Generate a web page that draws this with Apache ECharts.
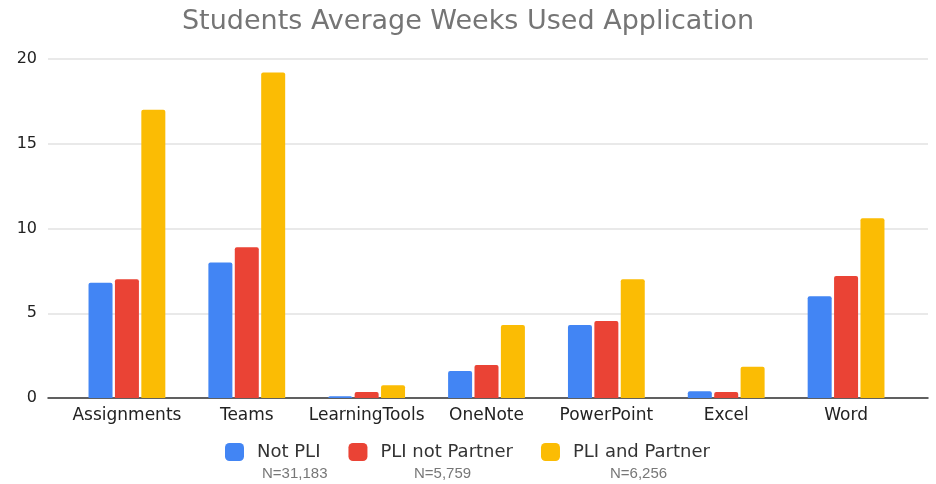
<!DOCTYPE html>
<html>
<head>
<meta charset="utf-8">
<script src="https://cdn.jsdelivr.net/npm/echarts@6/dist/echarts.min.js"></script>
<style>
  html, body { margin: 0; padding: 0; background: #fff; }
  #main { width: 936px; height: 484px; }
</style>
</head>
<body>
<div id="main"></div>
<script>
// 数据
var categories = ['Assignments', 'Teams', 'LearningTools', 'OneNote', 'PowerPoint', 'Excel', 'Word'];
var seriesNames = ['Not PLI', 'PLI not Partner', 'PLI and Partner'];
var notPli = [6.8, 8.0, 0.1, 1.6, 4.3, 0.4, 6.0];
var pliNotPartner = [7.0, 8.9, 0.35, 1.95, 4.55, 0.35, 7.2];
var pliAndPartner = [17.0, 19.2, 0.75, 4.3, 7.0, 1.85, 10.6];
var nLabels = ['N=31,183', 'N=5,759', 'N=6,256'];
var yTicks = [0, 5, 10, 15, 20];

var colors = ['#4285F4', '#EA4335', '#FBBC04'];
var fontMain = '"DejaVu Sans", sans-serif';

var myChart = echarts.init(document.getElementById('main'));

function barSeries(idx, data) {
  return {
    name: seriesNames[idx],
    type: 'bar',
    xAxisIndex: 1,
    yAxisIndex: 1,
    data: data,
    barWidth: 24,
    barGap: '10%',
    itemStyle: { color: colors[idx], borderRadius: [2, 2, 0, 0] }
  };
}

var option = {
  animation: false,
  color: colors,
  title: {
    text: 'Students Average Weeks Used Application',
    left: 'center',
    top: 3,
    textStyle: { fontFamily: fontMain, fontSize: 27, fontWeight: 'normal', color: '#757575' }
  },
  legend: {
    data: seriesNames,
    left: 220,
    top: 438,
    itemWidth: 19,
    itemHeight: 18,
    itemGap: 28,
    icon: 'roundRect',
    textStyle: { fontFamily: fontMain, fontSize: 18, color: '#333', padding: [0, 0, 0, 8] }
  },
  //网格：0 画网格线，1 画柱子
  grid: [
    { left: 48, right: 8, top: 59, bottom: 86 },
    { left: 67, right: 30, top: 59, bottom: 86 }
  ],
  xAxis: [
    {
      type: 'value', gridIndex: 0, min: 0, max: 1,
      axisLine: { show: true, onZero: false, lineStyle: { color: '#333', width: 1.5 } },
      axisTick: { show: false }, axisLabel: { show: false }, splitLine: { show: false }
    },
    {
      type: 'category', gridIndex: 1, data: categories,
      axisLine: { show: false }, axisTick: { show: false },
      axisLabel: { interval: 0, fontFamily: fontMain, fontSize: 17, color: '#222', margin: 9 }
    }
  ],
  yAxis: [
    {
      type: 'value', gridIndex: 0, min: yTicks[0], max: yTicks[yTicks.length - 1], interval: 5,
      axisLine: { show: false }, axisTick: { show: false },
      axisLabel: { fontFamily: fontMain, fontSize: 16, color: '#222', margin: 11 },
      splitLine: { lineStyle: { color: '#e2e2e2', width: 1.5 } }
    },
    {
      type: 'value', gridIndex: 1, min: yTicks[0], max: yTicks[yTicks.length - 1], interval: 5,
      show: false, splitLine: { show: false }
    }
  ],
  graphic: [
    { type: 'text', left: 262, top: 466, style: { text: nLabels[0], font: '15px "Liberation Sans"', fill: '#777' } },
    { type: 'text', left: 414, top: 466, style: { text: nLabels[1], font: '15px "Liberation Sans"', fill: '#777' } },
    { type: 'text', left: 610, top: 466, style: { text: nLabels[2], font: '15px "Liberation Sans"', fill: '#777' } }
  ],
  series: [
    barSeries(0, notPli),
    barSeries(1, pliNotPartner),
    barSeries(2, pliAndPartner)
  ]
};

myChart.setOption(option);
</script>
</body>
</html>
